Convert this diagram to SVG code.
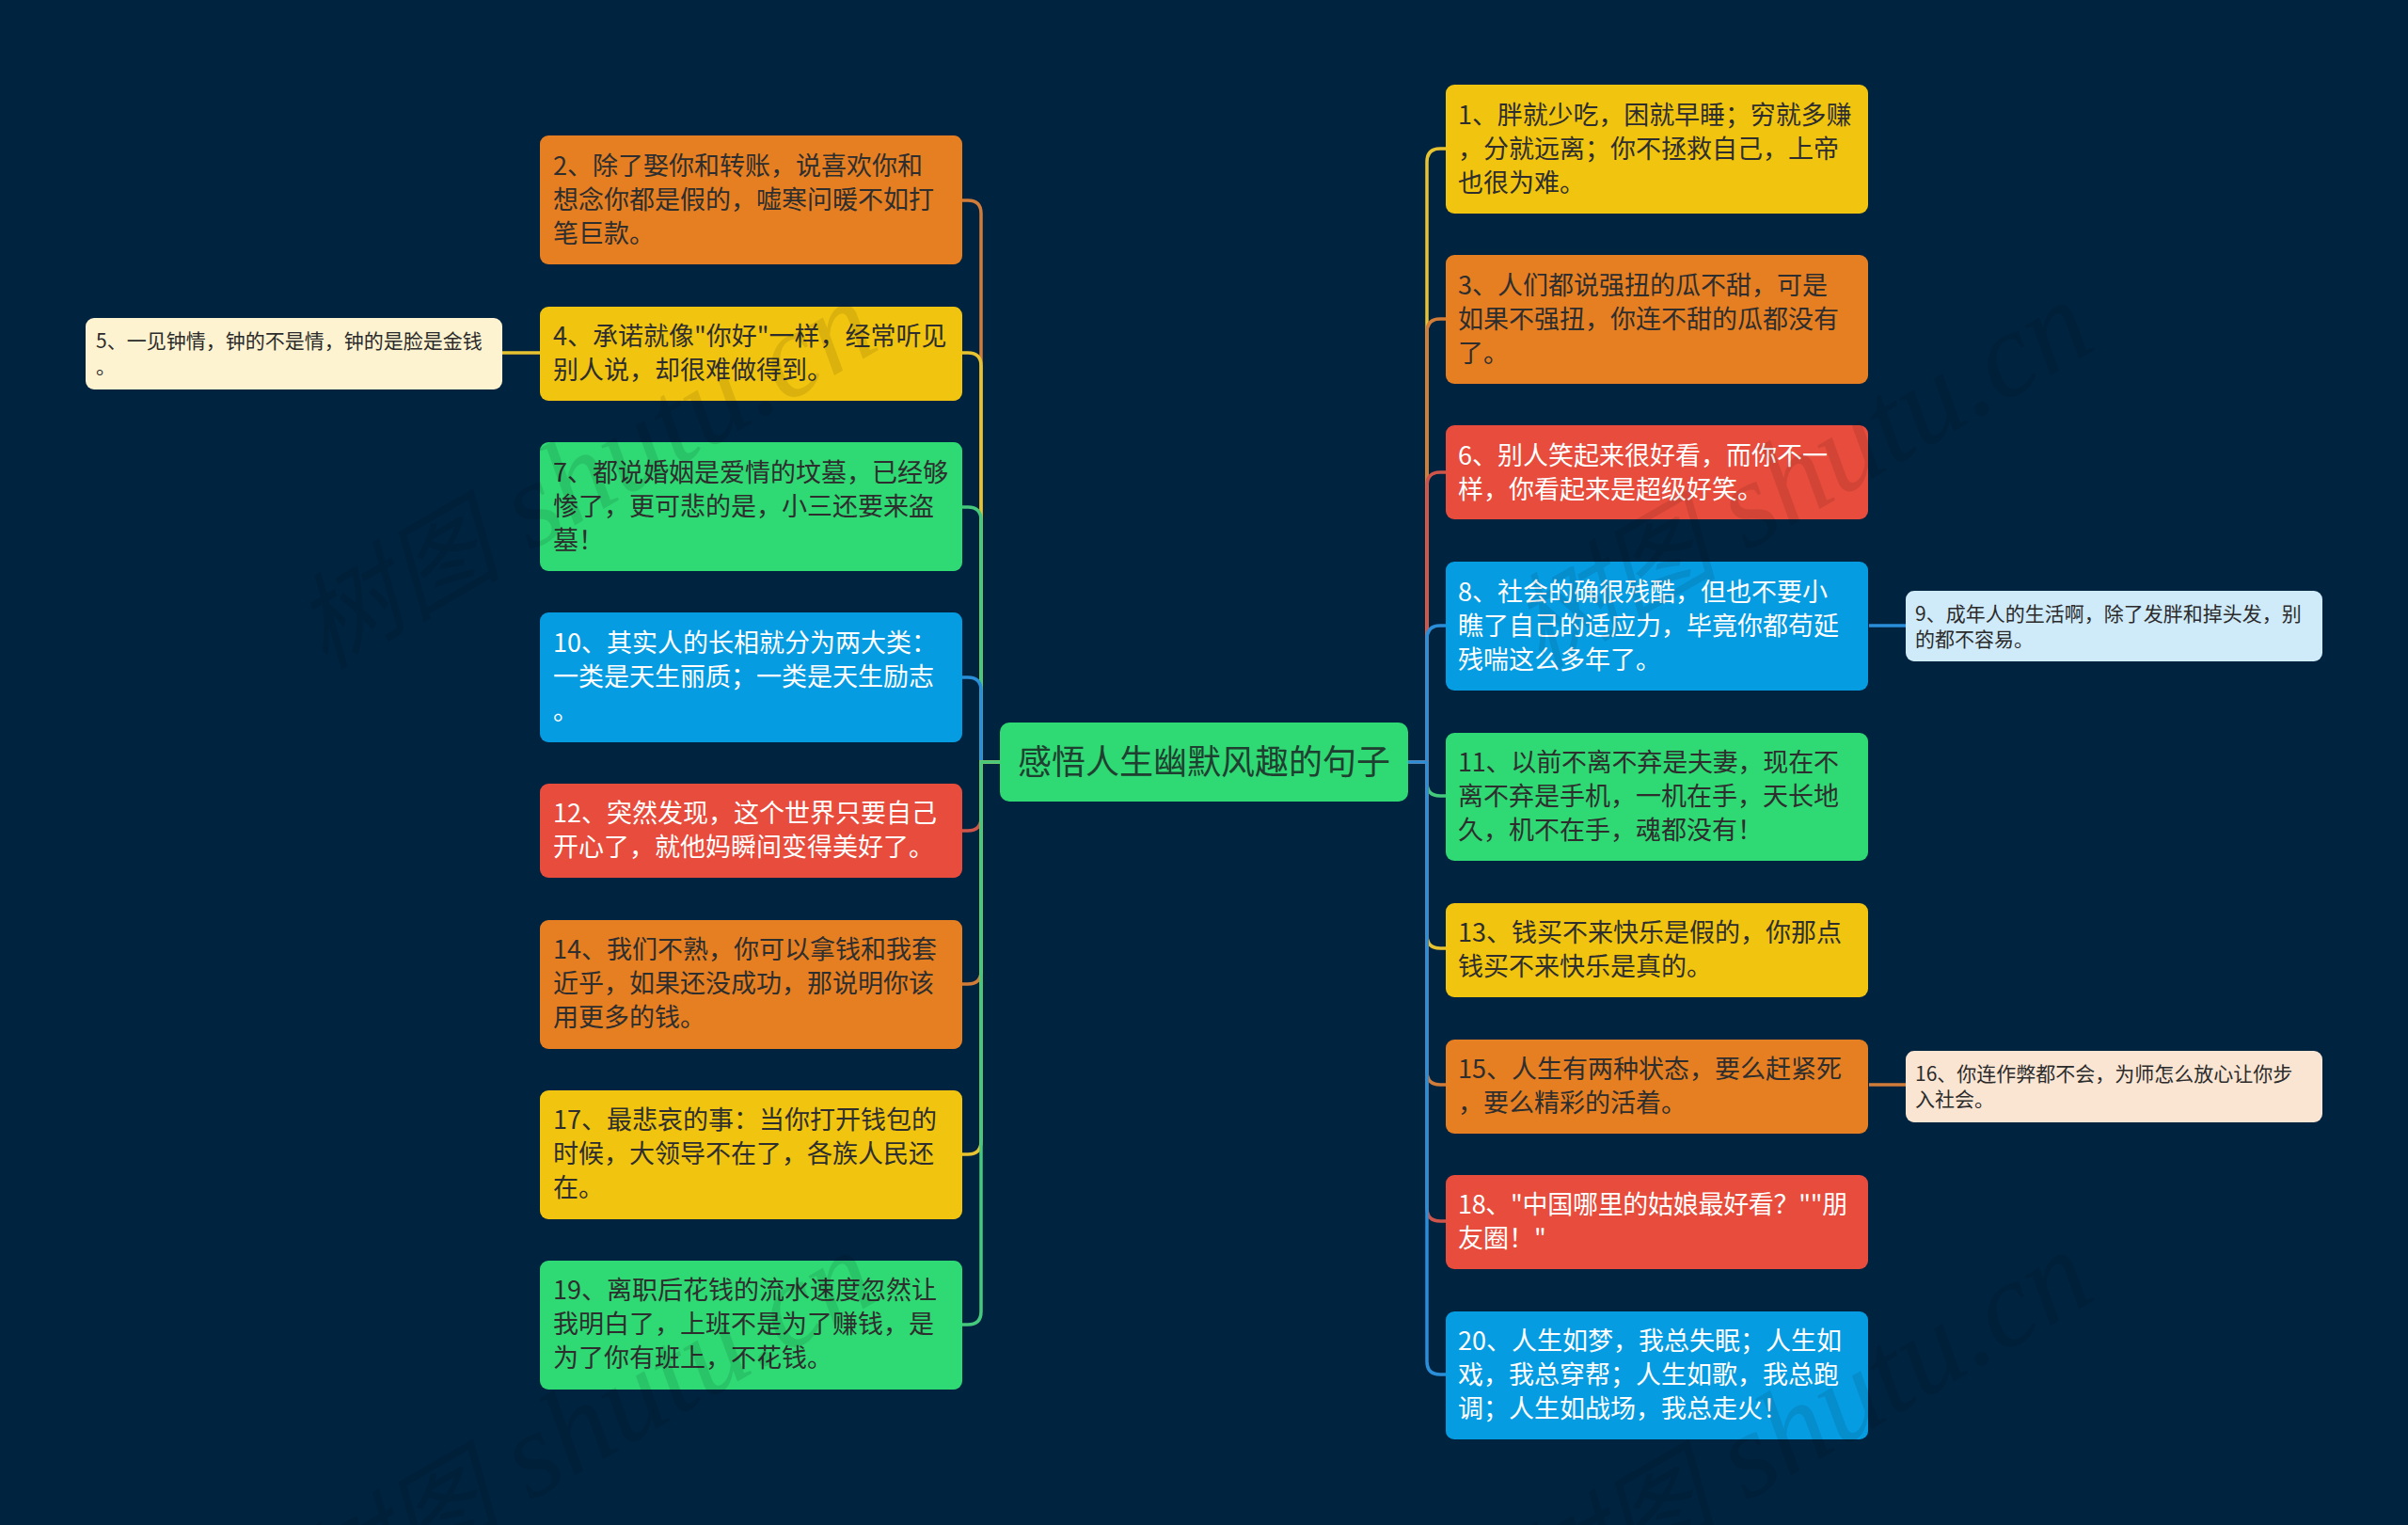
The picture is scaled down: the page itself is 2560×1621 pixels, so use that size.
<svg xmlns="http://www.w3.org/2000/svg" width="2560" height="1621" viewBox="0 0 2560 1621">
<style>
text{font-family:"Noto Sans CJK SC","Noto Sans",sans-serif}
.t{font-size:27px}
.s{font-size:21px;fill:#2b2b2b}
.d{fill:#2e2e2e}
.w{fill:#fff}
.r{font-size:36px;fill:#1f3f30;text-anchor:middle}
.orange{fill:#e67e22}.yellow{fill:#f1c40f}.green{fill:#2fd973}.blue{fill:#069ce2}.red{fill:#e74c3c}
.c{fill:none;stroke-width:3.5}
.co{stroke:#d27c39}.cy{stroke:#e8c331}.cg{stroke:#45c97c}.cb{stroke:#2a8ed8}.cr{stroke:#cf554a}
.wm{font-family:"Liberation Serif","Noto Sans CJK SC",serif;font-size:129px;font-style:italic;fill:#000;opacity:.09}
.wc{font-size:110px;font-family:"Noto Sans CJK SC",serif}
</style>
<rect width="2560" height="1621" fill="#00233f"/>
<g id="connectors">
<path class="c co" d="M1063 810H1043V227Q1043 213 1029 213H1023"/>
<path class="c cy" d="M1063 810H1043V389Q1043 375 1029 375H1023"/>
<path class="c cg" d="M1063 810H1043V553Q1043 539 1029 539H1023"/>
<path class="c cb" d="M1063 810H1043V734Q1043 720 1029 720H1023"/>
<path class="c cr" d="M1063 810H1043V869Q1043 883 1029 883H1023"/>
<path class="c co" d="M1063 810H1043V1032Q1043 1046 1029 1046H1023"/>
<path class="c cy" d="M1063 810H1043V1213Q1043 1227 1029 1227H1023"/>
<path class="c cg" d="M1063 810H1043V1394Q1043 1408 1029 1408H1023"/>
<path class="c cy" d="M534 375H574"/>
<path class="c cy" d="M1497 810H1517V172Q1517 158 1531 158H1537"/>
<path class="c co" d="M1497 810H1517V353Q1517 339 1531 339H1537"/>
<path class="c cr" d="M1497 810H1517V516Q1517 502 1531 502H1537"/>
<path class="c cb" d="M1497 810H1517V679Q1517 665 1531 665H1537"/>
<path class="c cg" d="M1497 810H1517V832Q1517 846 1531 846H1537"/>
<path class="c cy" d="M1497 810H1517V994Q1517 1008 1531 1008H1537"/>
<path class="c co" d="M1497 810H1517V1139Q1517 1153 1531 1153H1537"/>
<path class="c cr" d="M1497 810H1517V1284Q1517 1298 1531 1298H1537"/>
<path class="c cb" d="M1497 810H1517V1447Q1517 1461 1531 1461H1537"/>
<path class="c cb" d="M1987 665H2026"/>
<path class="c co" d="M1987 1153H2026"/>
</g>
<g id="root"><rect class="green" x="1063" y="768" width="434" height="84" rx="10"/><text class="r" x="1280" y="823">感悟人生幽默风趣的句子</text></g>
<g id="n2"><rect class="orange" x="574" y="144" width="449" height="137" rx="9"/><text class="t d"><tspan x="588" y="186">2、除了娶你和转账，说喜欢你和</tspan><tspan x="588" y="222">想念你都是假的，嘘寒问暖不如打</tspan><tspan x="588" y="258">笔巨款。</tspan></text></g>
<g id="n4"><rect class="yellow" x="574" y="326" width="449" height="100" rx="9"/><text class="t d"><tspan x="588" y="367">4、承诺就像"你好"一样，经常听见</tspan><tspan x="588" y="403">别人说，却很难做得到。</tspan></text></g>
<g id="n5"><rect x="91" y="338" width="443" height="76" rx="9" fill="#fdf3d0"/><text class="s"><tspan x="102" y="370">5、一见钟情，钟的不是情，钟的是脸是金钱</tspan><tspan x="102" y="397">。</tspan></text></g>
<g id="n7"><rect class="green" x="574" y="470" width="449" height="137" rx="9"/><text class="t d"><tspan x="588" y="512">7、都说婚姻是爱情的坟墓，已经够</tspan><tspan x="588" y="548">惨了，更可悲的是，小三还要来盗</tspan><tspan x="588" y="584">墓！</tspan></text></g>
<g id="n10"><rect class="blue" x="574" y="651" width="449" height="138" rx="9"/><text class="t w"><tspan x="588" y="693">10、其实人的长相就分为两大类：</tspan><tspan x="588" y="729">一类是天生丽质；一类是天生励志</tspan><tspan x="588" y="765">。</tspan></text></g>
<g id="n12"><rect class="red" x="574" y="833" width="449" height="100" rx="9"/><text class="t w"><tspan x="588" y="874">12、突然发现，这个世界只要自己</tspan><tspan x="588" y="910">开心了，就他妈瞬间变得美好了。</tspan></text></g>
<g id="n14"><rect class="orange" x="574" y="978" width="449" height="137" rx="9"/><text class="t d"><tspan x="588" y="1019">14、我们不熟，你可以拿钱和我套</tspan><tspan x="588" y="1055">近乎，如果还没成功，那说明你该</tspan><tspan x="588" y="1091">用更多的钱。</tspan></text></g>
<g id="n17"><rect class="yellow" x="574" y="1159" width="449" height="137" rx="9"/><text class="t d"><tspan x="588" y="1200">17、最悲哀的事：当你打开钱包的</tspan><tspan x="588" y="1236">时候，大领导不在了，各族人民还</tspan><tspan x="588" y="1272">在。</tspan></text></g>
<g id="n19"><rect class="green" x="574" y="1340" width="449" height="137" rx="9"/><text class="t d"><tspan x="588" y="1381">19、离职后花钱的流水速度忽然让</tspan><tspan x="588" y="1417">我明白了，上班不是为了赚钱，是</tspan><tspan x="588" y="1453">为了你有班上，不花钱。</tspan></text></g>
<g id="n1"><rect class="yellow" x="1537" y="90" width="449" height="137" rx="9"/><text class="t d"><tspan x="1550" y="132" letter-spacing="-.1">1、胖就少吃，困就早睡；穷就多赚</tspan><tspan x="1550" y="168">，分就远离；你不拯救自己，上帝</tspan><tspan x="1550" y="204">也很为难。</tspan></text></g>
<g id="n3"><rect class="orange" x="1537" y="271" width="449" height="137" rx="9"/><text class="t d"><tspan x="1550" y="313">3、人们都说强扭的瓜不甜，可是</tspan><tspan x="1550" y="349">如果不强扭，你连不甜的瓜都没有</tspan><tspan x="1550" y="385">了。</tspan></text></g>
<g id="n6"><rect class="red" x="1537" y="452" width="449" height="100" rx="9"/><text class="t w"><tspan x="1550" y="494">6、别人笑起来很好看，而你不一</tspan><tspan x="1550" y="530">样，你看起来是超级好笑。</tspan></text></g>
<g id="n8"><rect class="blue" x="1537" y="597" width="449" height="137" rx="9"/><text class="t w"><tspan x="1550" y="639">8、社会的确很残酷，但也不要小</tspan><tspan x="1550" y="675">瞧了自己的适应力，毕竟你都苟延</tspan><tspan x="1550" y="711">残喘这么多年了。</tspan></text></g>
<g id="n9"><rect x="2026" y="628" width="443" height="75" rx="9" fill="#cfeaf9"/><text class="s"><tspan x="2036" y="660">9、成年人的生活啊，除了发胖和掉头发，别</tspan><tspan x="2036" y="687">的都不容易。</tspan></text></g>
<g id="n11"><rect class="green" x="1537" y="779" width="449" height="136" rx="9"/><text class="t d"><tspan x="1550" y="820" letter-spacing="-.2">11、以前不离不弃是夫妻，现在不</tspan><tspan x="1550" y="856">离不弃是手机，一机在手，天长地</tspan><tspan x="1550" y="892">久，机不在手，魂都没有！</tspan></text></g>
<g id="n13"><rect class="yellow" x="1537" y="960" width="449" height="100" rx="9"/><text class="t d"><tspan x="1550" y="1001">13、钱买不来快乐是假的，你那点</tspan><tspan x="1550" y="1037">钱买不来快乐是真的。</tspan></text></g>
<g id="n15"><rect class="orange" x="1537" y="1105" width="449" height="100" rx="9"/><text class="t d"><tspan x="1550" y="1146">15、人生有两种状态，要么赶紧死</tspan><tspan x="1550" y="1182">，要么精彩的活着。</tspan></text></g>
<g id="n16"><rect x="2026" y="1117" width="443" height="76" rx="9" fill="#fae5d3"/><text class="s"><tspan x="2036" y="1149">16、你连作弊都不会，为师怎么放心让你步</tspan><tspan x="2036" y="1176">入社会。</tspan></text></g>
<g id="n18"><rect class="red" x="1537" y="1249" width="449" height="100" rx="9"/><text class="t w"><tspan x="1550" y="1290" letter-spacing="-.3">18、"中国哪里的姑娘最好看？""朋</tspan><tspan x="1550" y="1326">友圈！"</tspan></text></g>
<g id="n20"><rect class="blue" x="1537" y="1394" width="449" height="136" rx="9"/><text class="t w"><tspan x="1550" y="1435">20、人生如梦，我总失眠；人生如</tspan><tspan x="1550" y="1471">戏，我总穿帮；人生如歌，我总跑</tspan><tspan x="1550" y="1507">调；人生如战场，我总走火！</tspan></text></g>
<g id="watermarks">
<text class="wm" transform="translate(345 712) rotate(-30)"><tspan class="wc">树图</tspan> shutu.cn</text>
<text class="wm" transform="translate(1638 712) rotate(-30)"><tspan class="wc">树图</tspan> shutu.cn</text>
<text class="wm" transform="translate(345 1722) rotate(-30)"><tspan class="wc">树图</tspan> shutu.cn</text>
<text class="wm" transform="translate(1638 1722) rotate(-30)"><tspan class="wc">树图</tspan> shutu.cn</text>
</g>
</svg>
